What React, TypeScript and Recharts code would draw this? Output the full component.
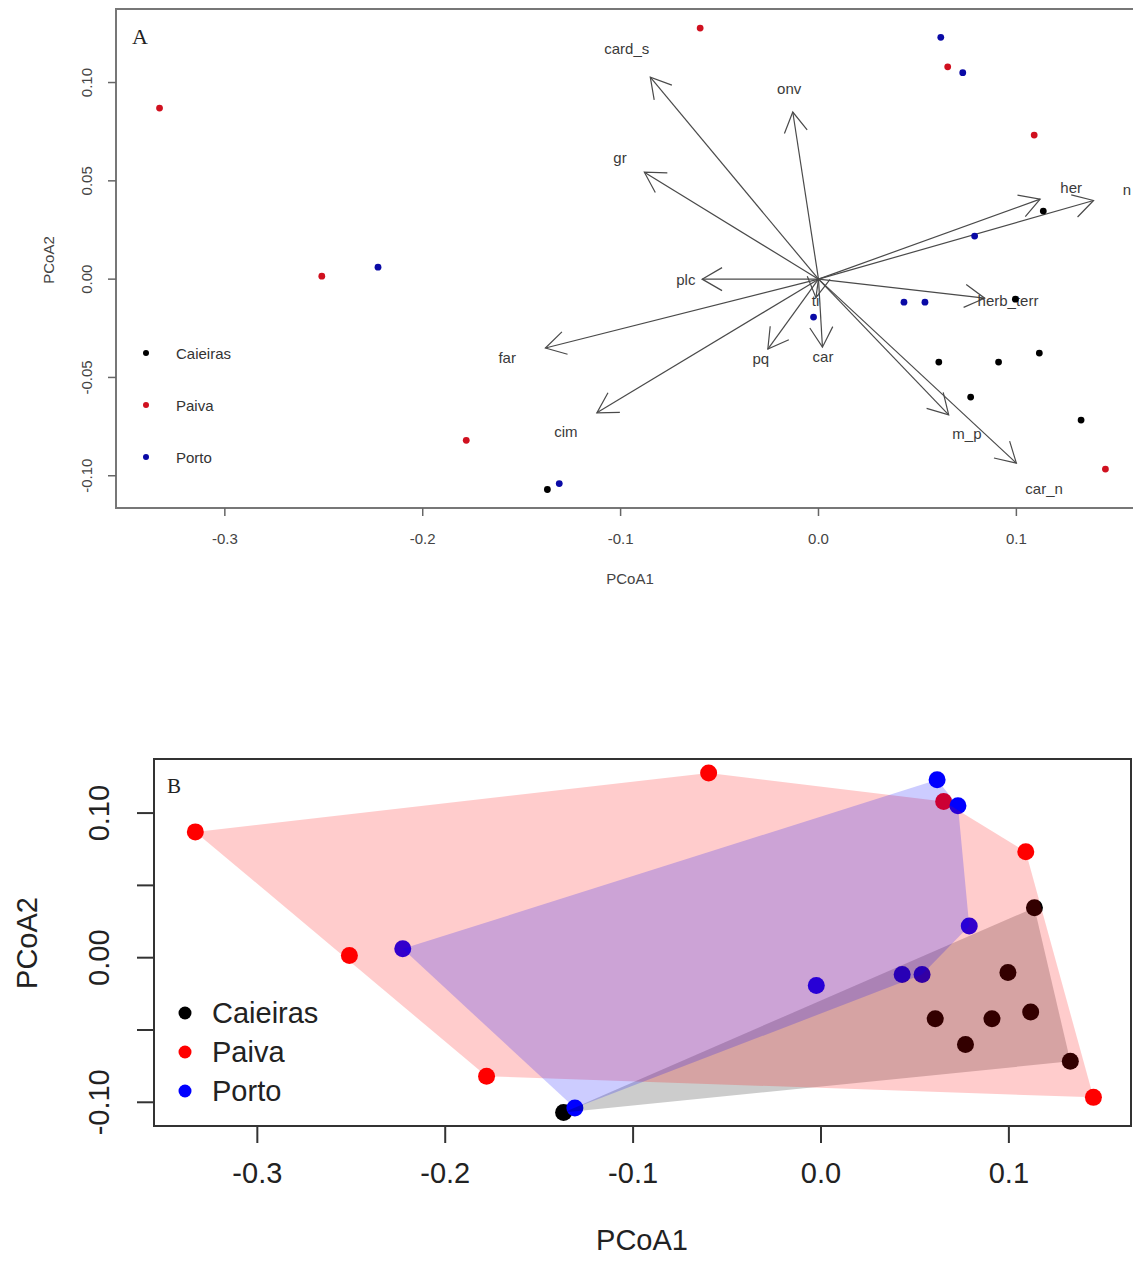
import React from 'react';
import { ScatterChart, Scatter, XAxis, YAxis, ReferenceArea } from 'recharts';

// site scores on the first two PCoA axes
const groupNames = ['Caieiras', 'Paiva', 'Porto'];
const caieirasX = [-0.137, 0.1136, 0.0995, 0.0608, 0.091, 0.1116, 0.0769, 0.1327];
const caieirasY = [-0.107, 0.0346, -0.0102, -0.0422, -0.0422, -0.0376, -0.06, -0.0717];
const paivaX = [-0.333, -0.251, -0.178, -0.0598, 0.0653, 0.109, 0.145];
const paivaY = [0.087, 0.0015, -0.082, 0.1277, 0.108, 0.0733, -0.0966];
const portoX = [-0.2226, -0.131, 0.0618, 0.0729, 0.0789, 0.0432, 0.0538, -0.0025];
const portoY = [0.0061, -0.104, 0.123, 0.105, 0.0219, -0.0117, -0.0117, -0.0193];

// fitted trait vectors (panel A)
const vectorNames = ['card_s', 'onv', 'gr', 'plc', 'far', 'cim', 'pq', 'car', 'ti', 'herb_terr', 'm_p', 'car_n', 'her', 'n'];
const vectorX = [-0.085, -0.013, -0.088, -0.0588, -0.138, -0.112, -0.0256, 0.002, -0.0013, 0.084, 0.0658, 0.1, 0.112, 0.139];
const vectorY = [0.1027, 0.085, 0.0544, 0, -0.035, -0.068, -0.0356, -0.0346, -0.0094, -0.0097, -0.069, -0.0936, 0.0407, 0.04];

const xTicks = [-0.3, -0.2, -0.1, 0, 0.1];
const xTickLabels = ['-0.3', '-0.2', '-0.1', '0.0', '0.1'];
const yTicks = [-0.1, -0.05, 0, 0.05, 0.1];
const yTickLabelsA = ['-0.10', '-0.05', '0.00', '0.05', '0.10'];
const yTickLabelsB = ['-0.10', '', '0.00', '', '0.10'];

const xDomain: [number, number] = [-0.355, 0.165];
const yDomain: [number, number] = [-0.1164, 0.1374];

const SANS = '"Liberation Sans", Arial, Helvetica, sans-serif';
const SERIF = '"Liberation Serif", "Times New Roman", serif';

const dotColorsA = ['#000000', '#d0101f', '#0a0aa6'];
const dotColorsB = ['#000000', '#ff0000', '#0000ff'];
const hullFills = ['rgba(0,0,0,0.2)', 'rgba(255,0,0,0.2)', 'rgba(0,0,255,0.2)'];

type Pt = { x: number; y: number };

const toPoints = (xs: number[], ys: number[]): Pt[] => xs.map((x, i) => ({ x, y: ys[i] }));

const groups = [
  toPoints(caieirasX, caieirasY),
  toPoints(paivaX, paivaY),
  toPoints(portoX, portoY),
];

// convex hull, like R's chull()
function hull(pts: Pt[]): Pt[] {
  const p = [...pts].sort((a, b) => a.x - b.x || a.y - b.y);
  const cross = (o: Pt, a: Pt, b: Pt) => (a.x - o.x) * (b.y - o.y) - (a.y - o.y) * (b.x - o.x);
  const lower: Pt[] = [];
  for (const q of p) {
    while (lower.length >= 2 && cross(lower[lower.length - 2], lower[lower.length - 1], q) <= 0) lower.pop();
    lower.push(q);
  }
  const upper: Pt[] = [];
  for (const q of [...p].reverse()) {
    while (upper.length >= 2 && cross(upper[upper.length - 2], upper[upper.length - 1], q) <= 0) upper.pop();
    upper.push(q);
  }
  return lower.slice(0, -1).concat(upper.slice(0, -1));
}

const tickIndex = (v: number) => xTicks.findIndex((t) => Math.abs(t - v) < 1e-9);
const yTickIndex = (v: number) => yTicks.findIndex((t) => Math.abs(t - v) < 1e-9);

const makeXTick = (size: number, dy: number, color: string) => (p: any) => (
  <text x={p.x} y={p.y + dy} textAnchor="middle" dominantBaseline="central" fontSize={size} fill={color} fontFamily={SANS}>
    {xTickLabels[tickIndex(p.payload.value)]}
  </text>
);

const makeYTick = (labels: string[], size: number, dx: number, color: string) => (p: any) => {
  const cx = p.x - dx;
  return (
    <text x={cx} y={p.y} transform={`rotate(-90 ${cx} ${p.y})`} textAnchor="middle" dominantBaseline="central" fontSize={size} fill={color} fontFamily={SANS}>
      {labels[yTickIndex(p.payload.value)]}
    </text>
  );
};

const Empty = () => <g />;

const Arrow = (name: string) => (lp: any) => {
  const [o, t] = lp.points;
  const ang = Math.atan2(t.y - o.y, t.x - o.x);
  const len = 23;
  const a1 = ang + Math.PI - Math.PI / 6;
  const a2 = ang + Math.PI + Math.PI / 6;
  // labels sit a little beyond the arrow tips; keep the last one inside the page
  const lx = Math.min(o.x + (t.x - o.x) * 1.14, 1127);
  const ly = o.y + (t.y - o.y) * 1.14;
  return (
    <g>
      <line x1={o.x} y1={o.y} x2={t.x} y2={t.y} stroke="#4a4a4a" strokeWidth={1.2} />
      <polyline
        points={`${t.x + len * Math.cos(a1)},${t.y + len * Math.sin(a1)} ${t.x},${t.y} ${t.x + len * Math.cos(a2)},${t.y + len * Math.sin(a2)}`}
        fill="none"
        stroke="#4a4a4a"
        strokeWidth={1.2}
      />
      <text x={lx} y={ly} textAnchor="middle" dominantBaseline="central" fontSize={15} fill="#3a3a3a" fontFamily={SANS}>
        {name}
      </text>
    </g>
  );
};

const HullShape = (fill: string) => (lp: any) => (
  <polygon points={lp.points.map((q: any) => `${q.x},${q.y}`).join(' ')} fill={fill} stroke="none" />
);

const PanelA = () => (
  <div style={{ position: 'absolute', left: 0, top: 0, width: 1160, height: 600 }}>
    <ScatterChart width={1160} height={600} margin={{ top: 9, right: 15, bottom: 52, left: 76 }}>
      <XAxis
        type="number"
        dataKey="x"
        domain={xDomain}
        ticks={xTicks}
        interval={0}
        allowDataOverflow
        height={40}
        axisLine={false}
        tickSize={8}
        tickMargin={0}
        tickLine={{ stroke: '#666', strokeWidth: 1.5 }}
        tick={makeXTick(15, 22, '#444')}
      />
      <YAxis
        type="number"
        dataKey="y"
        domain={yDomain}
        ticks={yTicks}
        interval={0}
        allowDataOverflow
        width={40}
        axisLine={false}
        tickSize={8}
        tickMargin={0}
        tickLine={{ stroke: '#666', strokeWidth: 1.5 }}
        tick={makeYTick(yTickLabelsA, 15, 21, '#444')}
      />
      <ReferenceArea x1={xDomain[0]} x2={xDomain[1]} y1={yDomain[0]} y2={yDomain[1]} fill="none" stroke="#777" strokeWidth={2} ifOverflow="visible" />
      {vectorNames.map((name, i) => (
        <Scatter
          key={name}
          data={[{ x: 0, y: 0 }, { x: vectorX[i], y: vectorY[i] }]}
          shape={Empty}
          line={Arrow(name)}
          isAnimationActive={false}
        />
      ))}
      {groups.map((pts, g) => (
        <Scatter
          key={groupNames[g]}
          name={groupNames[g]}
          data={pts}
          isAnimationActive={false}
          shape={(p: any) => <circle cx={p.cx} cy={p.cy} r={3.4} fill={dotColorsA[g]} />}
        />
      ))}
    </ScatterChart>
    <svg width={1160} height={600} style={{ position: 'absolute', left: 0, top: 0, pointerEvents: 'none' }}>
      <text x={132} y={36} fontSize={22} fontFamily={SERIF} fill="#222" dominantBaseline="central">A</text>
      <text x={630} y={578} fontSize={15} fontFamily={SANS} fill="#444" textAnchor="middle" dominantBaseline="central">PCoA1</text>
      <text x={48} y={260} fontSize={15} fontFamily={SANS} fill="#444" textAnchor="middle" dominantBaseline="central" transform="rotate(-90 48 260)">PCoA2</text>
      {groupNames.map((n, g) => (
        <g key={n}>
          <circle cx={146} cy={353 + g * 52} r={3} fill={dotColorsA[g]} />
          <text x={176} y={353 + g * 52} fontSize={15} fontFamily={SANS} fill="#333" dominantBaseline="central">{n}</text>
        </g>
      ))}
    </svg>
  </div>
);

const PanelB = () => (
  <div style={{ position: 'absolute', left: 0, top: 700, width: 1133, height: 575 }}>
    <ScatterChart width={1133} height={575} margin={{ top: 59, right: 2, bottom: 109, left: 114 }}>
      <XAxis
        type="number"
        dataKey="x"
        domain={xDomain}
        ticks={xTicks}
        interval={0}
        allowDataOverflow
        height={40}
        axisLine={false}
        tickSize={17}
        tickMargin={0}
        tickLine={{ stroke: '#333', strokeWidth: 2 }}
        tick={makeXTick(29, 30, '#222')}
      />
      <YAxis
        type="number"
        dataKey="y"
        domain={yDomain}
        ticks={yTicks}
        interval={0}
        allowDataOverflow
        width={40}
        axisLine={false}
        tickSize={17}
        tickMargin={0}
        tickLine={{ stroke: '#333', strokeWidth: 2 }}
        tick={makeYTick(yTickLabelsB, 29, 38, '#222')}
      />
      {groups.map((pts, g) => (
        <Scatter
          key={groupNames[g]}
          name={groupNames[g]}
          data={pts}
          isAnimationActive={false}
          shape={(p: any) => <circle cx={p.cx} cy={p.cy} r={8.5} fill={dotColorsB[g]} />}
        />
      ))}
      {groups.map((pts, g) => (
        <Scatter
          key={'hull-' + groupNames[g]}
          data={hull(pts)}
          shape={Empty}
          line={HullShape(hullFills[g])}
          isAnimationActive={false}
        />
      ))}
      <ReferenceArea x1={xDomain[0]} x2={xDomain[1]} y1={yDomain[0]} y2={yDomain[1]} fill="none" stroke="#333" strokeWidth={2} ifOverflow="visible" />
    </ScatterChart>
    <svg width={1133} height={575} style={{ position: 'absolute', left: 0, top: 0, pointerEvents: 'none' }}>
      <text x={167} y={86} fontSize={21} fontFamily={SERIF} fill="#222" dominantBaseline="central">B</text>
      <text x={642} y={540} fontSize={29} fontFamily={SANS} fill="#222" textAnchor="middle" dominantBaseline="central">PCoA1</text>
      <text x={27} y={243} fontSize={29} fontFamily={SANS} fill="#222" textAnchor="middle" dominantBaseline="central" transform="rotate(-90 27 243)">PCoA2</text>
      {groupNames.map((n, g) => (
        <g key={n}>
          <circle cx={185} cy={313 + g * 39} r={6.5} fill={dotColorsB[g]} />
          <text x={212} y={313 + g * 39} fontSize={29} fontFamily={SANS} fill="#222" dominantBaseline="central">{n}</text>
        </g>
      ))}
    </svg>
  </div>
);

export default function App() {
  return (
    <div style={{ position: 'absolute', left: 0, top: 0, width: 1133, height: 1275, overflow: 'hidden', background: '#fff' }}>
      <PanelA />
      <PanelB />
    </div>
  );
}
